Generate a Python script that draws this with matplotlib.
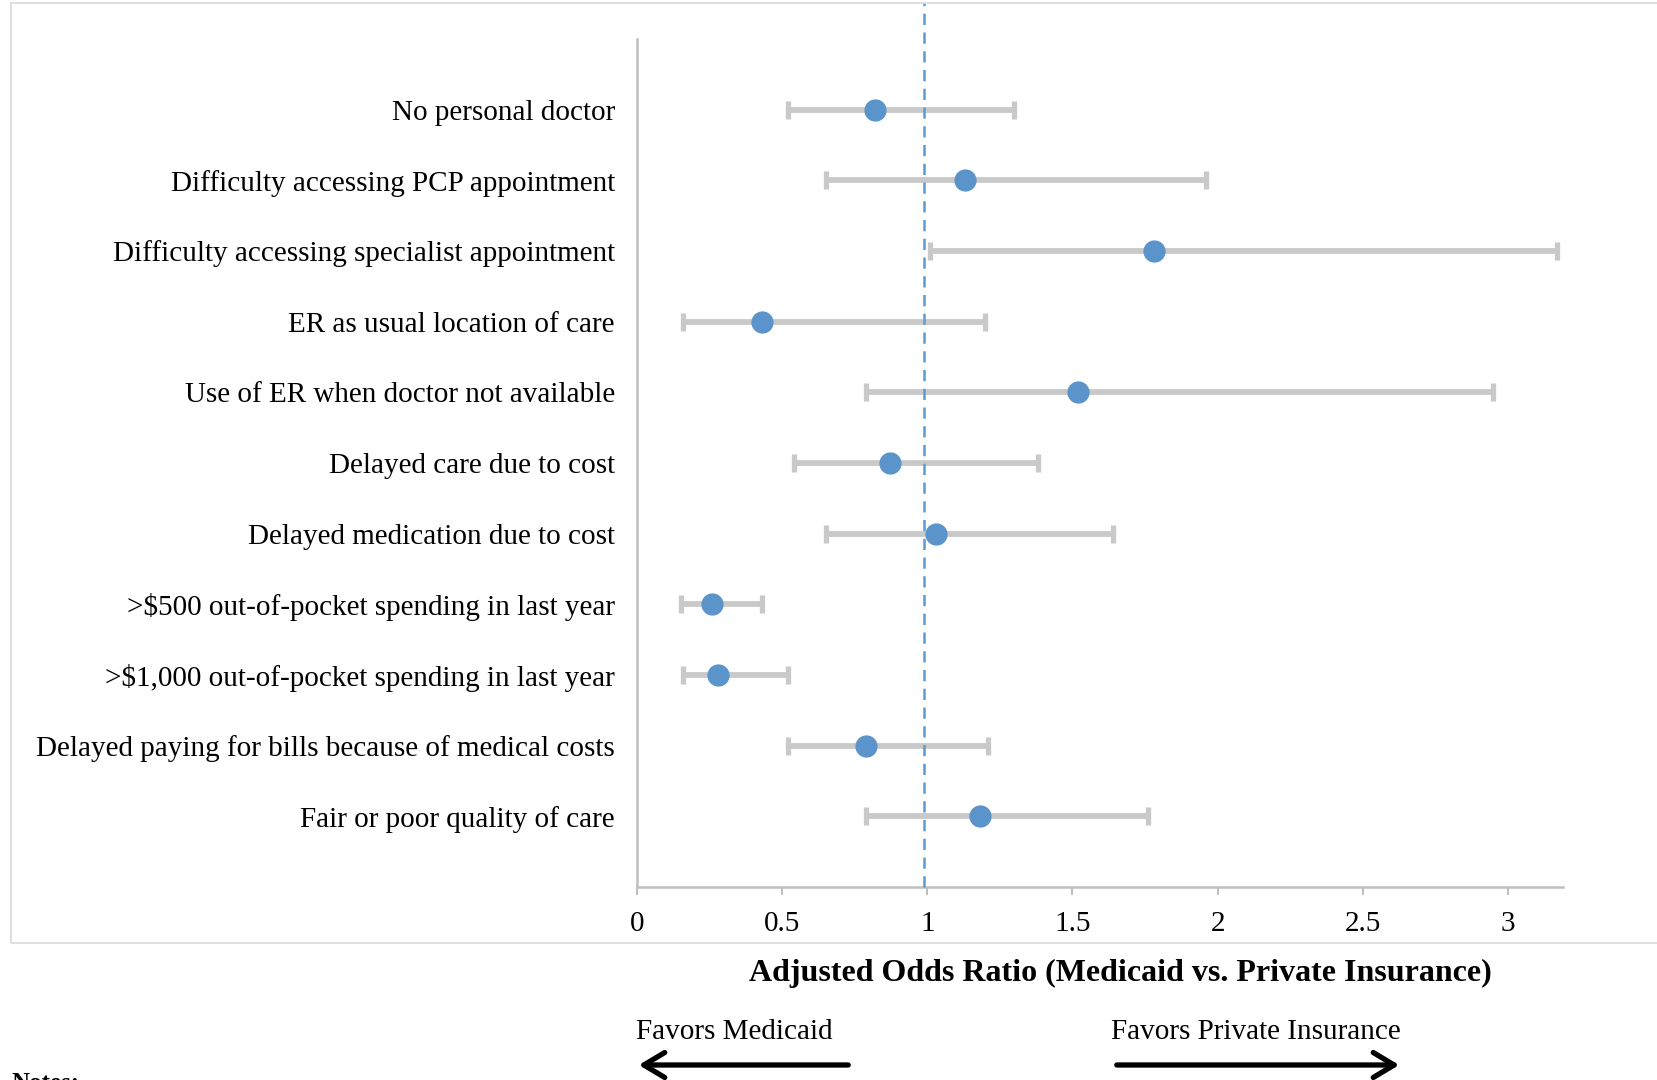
import numpy as np
import matplotlib
matplotlib.use("Agg")
import matplotlib.pyplot as plt
from matplotlib.patches import Rectangle, FancyArrowPatch

plt.rcParams['font.family'] = ['Liberation Serif', 'DejaVu Serif']

# outcomes, top to bottom
outcomes = [
    "No personal doctor",
    "Difficulty accessing PCP appointment",
    "Difficulty accessing specialist appointment",
    "ER as usual location of care",
    "Use of ER when doctor not available",
    "Delayed care due to cost",
    "Delayed medication due to cost",
    ">$500 out-of-pocket spending in last year",
    ">$1,000 out-of-pocket spending in last year",
    "Delayed paying for bills because of medical costs",
    "Fair or poor quality of care",
]
odds_ratio = [0.82, 1.13, 1.78, 0.43, 1.52, 0.87, 1.03, 0.26, 0.28, 0.79, 1.18]
ci_low = [0.52, 0.65, 1.01, 0.16, 0.79, 0.54, 0.65, 0.15, 0.16, 0.52, 0.79]
ci_high = [1.30, 1.96, 3.17, 1.20, 2.95, 1.38, 1.64, 0.43, 0.52, 1.21, 1.76]
x_ticks = [0, 0.5, 1, 1.5, 2, 2.5, 3]
ref_line = 0.99

W, H = 1657, 1080
fig = plt.figure(figsize=(W / 100, H / 100), dpi=100)

# outer chart frame
fig.patches.append(Rectangle((11 / W, 1 - 943 / H), 1.0, 940 / H,
                             transform=fig.transFigure, fill=False,
                             edgecolor="#D9D9D9", linewidth=1.2))

ax = fig.add_axes([637 / W, 1 - 887 / H, (1563 - 637) / W, (887 - 39) / H])

ypos = np.arange(len(outcomes), 0, -1)
orr = np.array(odds_ratio)
err = [orr - np.array(ci_low), np.array(ci_high) - orr]

ax.errorbar(orr, ypos, xerr=err, fmt="none", ecolor="#C9C9C9",
            elinewidth=4.2, capsize=6.5, capthick=3.8, zorder=2)
# reference line runs up to the chart frame
ax.axvline(ref_line, ymin=0, ymax=1.042, clip_on=False, color="#5B9BD5",
           linewidth=1.8, linestyle=(0, (4.5, 3)), zorder=3)
ax.plot(orr, ypos, "o", color="#5B93CB", markersize=15, zorder=4)

ax.set_xlim(0, 3.19)
ax.set_ylim(0, 12)
ax.set_xticks(x_ticks)
ax.set_xticklabels([f"{t:g}" for t in x_ticks], fontsize=21)
ax.set_yticks(ypos)
ax.set_yticklabels(outcomes, fontsize=21)
ax.tick_params(axis="y", length=0, pad=16)
ax.tick_params(axis="x", length=6, width=1.5, color="#BFBFBF", pad=11)

for s in ["top", "right"]:
    ax.spines[s].set_visible(False)
for s in ["left", "bottom"]:
    ax.spines[s].set_color("#BFBFBF")
    ax.spines[s].set_linewidth(1.8)

fig.text(1120 / W, 1 - 973 / H, "Adjusted Odds Ratio (Medicaid vs. Private Insurance)",
         ha="center", va="center", fontsize=23, fontweight="bold")

fig.text(636 / W, 1 - 1032 / H, "Favors Medicaid", ha="left", va="center", fontsize=21)
fig.text(1111 / W, 1 - 1032 / H, "Favors Private Insurance", ha="left", va="center", fontsize=21)

for start, end in [((851, 1065), (636, 1065)), ((1114, 1065), (1402, 1065))]:
    fig.add_artist(FancyArrowPatch(
        (start[0] / W, 1 - start[1] / H), (end[0] / W, 1 - end[1] / H),
        transform=fig.transFigure,
        arrowstyle="->,head_length=10,head_width=6", linewidth=3.8, color="black",
        mutation_scale=1.5))

fig.text(11 / W, 1 - 1072 / H, "Notes:", ha="left", va="top", fontsize=18, fontweight="bold")

fig.savefig("out.png", dpi=100)
